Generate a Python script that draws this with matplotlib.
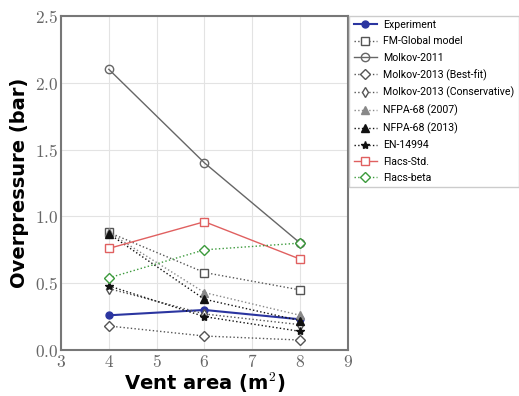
import matplotlib
matplotlib.use('Agg')
import matplotlib.pyplot as plt

plt.rcParams['mathtext.fontset'] = 'cm'
plt.rcParams['axes.formatter.use_mathtext'] = True

vent_area = [4, 6, 8]

experiment = [0.26, 0.30, 0.23]
fm_global = [0.88, 0.58, 0.45]
molkov_2011 = [2.10, 1.40, 0.80]
molkov_2013_best = [0.18, 0.105, 0.075]
molkov_2013_cons = [0.46, 0.27, 0.19]
nfpa_2007 = [0.88, 0.43, 0.26]
nfpa_2013 = [0.87, 0.38, 0.22]
en_14994 = [0.48, 0.25, 0.14]
flacs_std = [0.76, 0.96, 0.68]
flacs_beta = [0.54, 0.75, 0.80]

fig = plt.figure(figsize=(5.19, 3.96), dpi=100)
ax = fig.add_axes([0.1175, 0.116, 0.553, 0.844])

ax.plot(vent_area, experiment, '-o', color='#2b35a0', lw=1.5, ms=5, label='Experiment')
ax.plot(vent_area, fm_global, ':s', color='#555555', lw=1, ms=6, mfc='white', label='FM-Global model')
ax.plot(vent_area, molkov_2011, '-o', color='#666666', lw=1, ms=6, mfc='none', label='Molkov-2011')
ax.plot(vent_area, molkov_2013_best, ':D', color='#555555', lw=1, ms=5, mfc='white', label='Molkov-2013 (Best-fit)')
ax.plot(vent_area, molkov_2013_cons, ':d', color='#555555', lw=1, ms=5, mfc='white', label='Molkov-2013 (Conservative)')
ax.plot(vent_area, nfpa_2007, ':^', color='#888888', lw=1, ms=6, label='NFPA-68 (2007)')
ax.plot(vent_area, nfpa_2013, ':^', color='#111111', lw=1, ms=6, label='NFPA-68 (2013)')
ax.plot(vent_area, en_14994, ':*', color='#111111', lw=1, ms=6, label='EN-14994')
ax.plot(vent_area, flacs_std, '-s', color='#e06060', lw=1, ms=6, mfc='white', label='Flacs-Std.')
ax.plot(vent_area, flacs_beta, ':D', color='#3c9a3c', lw=1, ms=5, mfc='white', label='Flacs-beta')

ax.set_xlim(3, 9)
ax.set_ylim(0, 2.5)
ax.set_xticks([3, 4, 5, 6, 7, 8, 9])
ax.set_yticks([0.0, 0.5, 1.0, 1.5, 2.0, 2.5])
ax.set_xticklabels([f'${v}$' for v in [3, 4, 5, 6, 7, 8, 9]])
ax.set_yticklabels([f'${v:.1f}$' for v in [0.0, 0.5, 1.0, 1.5, 2.0, 2.5]])
ax.tick_params(labelsize=12.5, length=0, colors='#666666', pad=2)
ax.grid(True, color='#e3e3e3', lw=0.8)
for s in ax.spines.values():
    s.set_color('#777777')
    s.set_linewidth(1.5)

ax.set_xlabel('Vent area (m$^\\mathbf{2}$)', fontsize=14, fontweight='bold', labelpad=0)
ax.set_ylabel('Overpressure (bar)', fontsize=14, fontweight='bold', labelpad=4)

leg = ax.legend(loc='upper left', bbox_to_anchor=(1.005, 1.0), borderaxespad=0,
                prop={'family': ['Roboto', 'DejaVu Sans'], 'size': 7.6},
                handlelength=2.2, handletextpad=0.6, labelspacing=0.6, fancybox=False,
                framealpha=1, edgecolor='#cccccc')

fig.savefig('out.png', dpi=100)
